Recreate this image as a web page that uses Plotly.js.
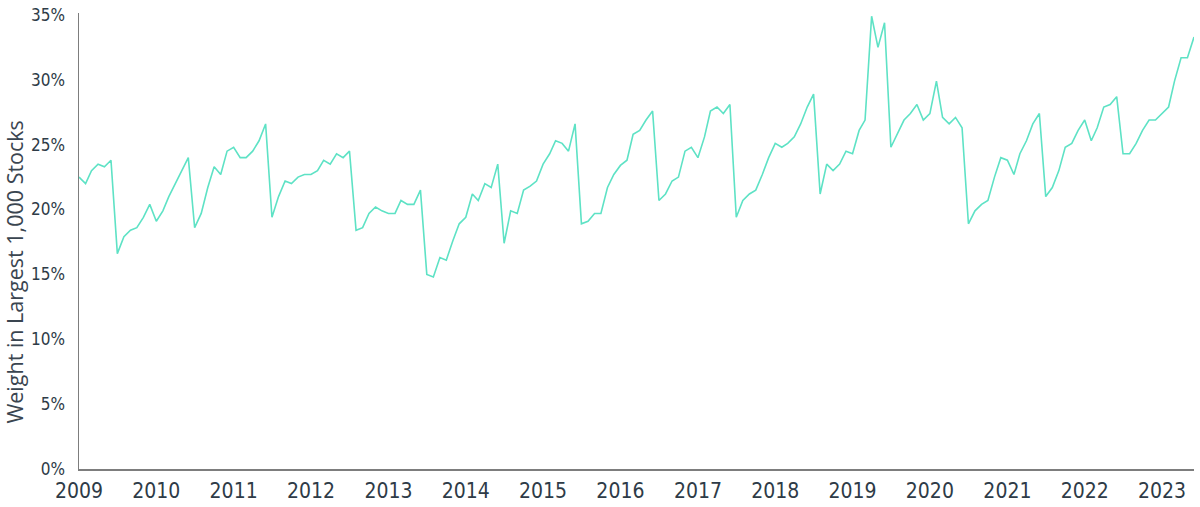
<!DOCTYPE html>
<html>
<head>
<meta charset="utf-8">
<script src="https://cdn.plot.ly/plotly-3.0.1.min.js"></script>
<style>
  html, body { margin: 0; padding: 0; background: #fff; }
  #chart { width: 1200px; height: 507px; }
</style>
</head>
<body>
<div id="chart"></div>
<script>
// monthly weight (%) of the largest 1,000 stocks, one array per year (Jan..Dec)
var w2009 = [22.5, 22.0, 23.0, 23.5, 23.3, 23.8, 16.6, 17.9, 18.4, 18.6, 19.4, 20.4];
var w2010 = [19.1, 19.9, 21.0, 22.0, 23.0, 24.0, 18.6, 19.7, 21.7, 23.3, 22.7, 24.5];
var w2011 = [24.8, 24.0, 24.0, 24.5, 25.3, 26.6, 19.4, 21.0, 22.2, 22.0, 22.5, 22.7];
var w2012 = [22.7, 23.0, 23.8, 23.5, 24.3, 24.0, 24.5, 18.4, 18.6, 19.7, 20.2, 19.9];
var w2013 = [19.7, 19.7, 20.7, 20.4, 20.4, 21.5, 15.0, 14.8, 16.3, 16.1, 17.6, 18.9];
var w2014 = [19.4, 21.2, 20.7, 22.0, 21.7, 23.5, 17.4, 19.9, 19.7, 21.5, 21.8, 22.2];
var w2015 = [23.5, 24.3, 25.3, 25.1, 24.5, 26.6, 18.9, 19.1, 19.7, 19.7, 21.7, 22.7];
var w2016 = [23.4, 23.8, 25.8, 26.1, 26.9, 27.6, 20.7, 21.2, 22.2, 22.5, 24.5, 24.8];
var w2017 = [24.0, 25.6, 27.6, 27.9, 27.4, 28.1, 19.4, 20.7, 21.2, 21.5, 22.7, 24.0];
var w2018 = [25.1, 24.8, 25.1, 25.6, 26.6, 27.9, 28.9, 21.2, 23.5, 23.0, 23.5, 24.5];
var w2019 = [24.3, 26.1, 26.9, 34.9, 32.5, 34.4, 24.8, 25.8, 26.9, 27.4, 28.1, 26.9];
var w2020 = [27.4, 29.9, 27.1, 26.6, 27.1, 26.3, 18.9, 19.9, 20.4, 20.7, 22.5, 24.0];
var w2021 = [23.8, 22.7, 24.3, 25.3, 26.6, 27.4, 21.0, 21.7, 23.0, 24.8, 25.1, 26.1];
var w2022 = [26.9, 25.3, 26.3, 27.9, 28.1, 28.7, 24.3, 24.3, 25.1, 26.1, 26.9, 26.9];
var w2023 = [27.4, 27.9, 29.9, 31.7, 31.7, 33.3];

var years = [2009, 2010, 2011, 2012, 2013, 2014, 2015, 2016, 2017, 2018, 2019, 2020, 2021, 2022, 2023];
var byYear = [w2009, w2010, w2011, w2012, w2013, w2014, w2015, w2016, w2017, w2018, w2019, w2020, w2021, w2022, w2023];
var yTicks = [0, 5, 10, 15, 20, 25, 30, 35];

var dates = [];
var weights = [];
years.forEach(function (yr, k) {
  byYear[k].forEach(function (v, m) {
    var mm = m + 1 < 10 ? '0' + (m + 1) : '' + (m + 1);
    dates.push(yr + '-' + mm + '-01');
    weights.push(v);
  });
});

var tickFont = {family: '"Liberation Sans Narrow", "DejaVu Sans Condensed", sans-serif', color: '#2e3b47'};

var trace = {
  x: dates,
  y: weights,
  type: 'scatter',
  mode: 'lines',
  line: {color: '#5ee2c5', width: 1.6},
  hoverinfo: 'skip'
};

var layout = {
  width: 1200,
  height: 507,
  margin: {l: 79, r: 6, t: 13, b: 38},
  paper_bgcolor: '#ffffff',
  plot_bgcolor: '#ffffff',
  showlegend: false,
  xaxis: {
    type: 'date',
    range: ['2009-01-01', '2023-06-01'],
    tickvals: years.map(function (y) { return y + '-01-01'; }),
    ticktext: years.map(String),
    showgrid: false,
    zeroline: false,
    showline: true,
    linecolor: '#7d7d7d',
    linewidth: 1.5,
    ticks: '',
    ticklabelstandoff: 2,
    tickfont: Object.assign({size: 21}, tickFont)
  },
  yaxis: {
    range: [0, 35.15],
    tickvals: yTicks,
    ticktext: yTicks.map(function (t) { return t + '%'; }),
    showgrid: false,
    zeroline: false,
    showline: true,
    linecolor: '#7d7d7d',
    linewidth: 1.5,
    ticks: '',
    ticklabelstandoff: 9,
    tickfont: Object.assign({size: 17}, tickFont)
  },
  annotations: [{
    text: 'Weight in Largest 1,000 Stocks',
    textangle: -90,
    xref: 'paper', yref: 'paper',
    x: -0.0574, y: 0.433,
    xanchor: 'center', yanchor: 'middle',
    showarrow: false,
    font: {family: '"Open Sans", sans-serif', size: 21.5, color: '#3a4550'}
  }]
};

Plotly.newPlot('chart', [trace], layout, {displayModeBar: false, staticPlot: true});
</script>
</body>
</html>
